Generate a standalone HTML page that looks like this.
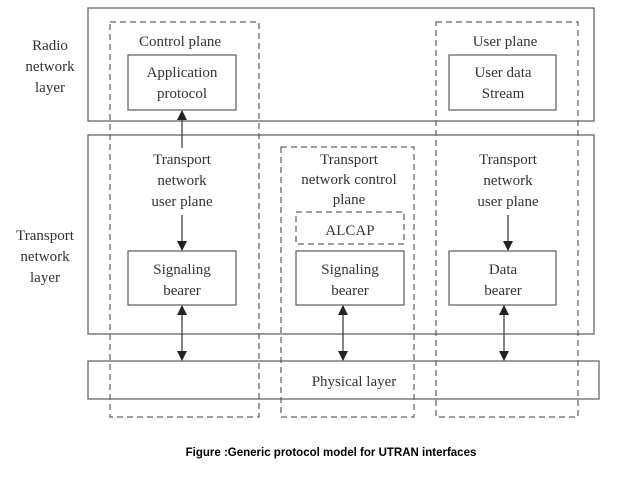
<!DOCTYPE html>
<html><head><meta charset="utf-8"><style>
body{margin:0;background:#fff;}
svg{display:block}
text{font-family:"Liberation Serif",serif;font-size:15px;fill:#333;text-anchor:middle}
</style></head><body>
<svg width="638" height="479" viewBox="0 0 638 479" xmlns="http://www.w3.org/2000/svg">
<defs>
<marker id="a" markerWidth="10" markerHeight="10" refX="9" refY="5" orient="auto" markerUnits="userSpaceOnUse">
<path d="M0,0 L10,5 L0,10 z" fill="#222"/></marker>
</defs>
<g fill="none" stroke="#666" stroke-width="1.3">
<rect x="88" y="8" width="506" height="113"/>
<rect x="88" y="135" width="506" height="199"/>
<rect x="88" y="361" width="511" height="38"/>
<rect x="128" y="55" width="108" height="55"/>
<rect x="449" y="55" width="107" height="55"/>
<rect x="128" y="251" width="108" height="54"/>
<rect x="296" y="251" width="108" height="54"/>
<rect x="449" y="251" width="107" height="54"/>
</g>
<g fill="none" stroke="#666" stroke-width="1.3" stroke-dasharray="6,4">
<rect x="110" y="22" width="149" height="395"/>
<rect x="281" y="147" width="133" height="270"/>
<rect x="436" y="22" width="142" height="395"/>
<rect x="296" y="212" width="108" height="32"/>
</g>
<g stroke="#333" stroke-width="1.2">
<line x1="182" y1="148" x2="182" y2="111" marker-end="url(#a)"/>
<line x1="182" y1="215" x2="182" y2="250" marker-end="url(#a)"/>
<line x1="508" y1="215" x2="508" y2="250" marker-end="url(#a)"/>
<line x1="182" y1="333" x2="182" y2="306" marker-end="url(#a)"/>
<line x1="182" y1="333" x2="182" y2="360" marker-end="url(#a)"/>
<line x1="343" y1="333" x2="343" y2="306" marker-end="url(#a)"/>
<line x1="343" y1="333" x2="343" y2="360" marker-end="url(#a)"/>
<line x1="504" y1="333" x2="504" y2="306" marker-end="url(#a)"/>
<line x1="504" y1="333" x2="504" y2="360" marker-end="url(#a)"/>
</g>
<text x="50" y="50">Radio</text><text x="50" y="71">network</text><text x="50" y="92">layer</text>
<text x="45" y="240">Transport</text><text x="45" y="261">network</text><text x="45" y="282">layer</text>
<text x="180" y="46">Control plane</text>
<text x="182" y="77">Application</text><text x="182" y="98">protocol</text>
<text x="505" y="46">User plane</text>
<text x="503" y="77">User data</text><text x="503" y="98">Stream</text>
<text x="182" y="164">Transport</text><text x="182" y="185">network</text><text x="182" y="206">user plane</text>
<text x="349" y="164">Transport</text><text x="349" y="184">network control</text><text x="349" y="204">plane</text>
<text x="350" y="235">ALCAP</text>
<text x="508" y="164">Transport</text><text x="508" y="185">network</text><text x="508" y="206">user plane</text>
<text x="182" y="274">Signaling</text><text x="182" y="295">bearer</text>
<text x="350" y="274">Signaling</text><text x="350" y="295">bearer</text>
<text x="503" y="274">Data</text><text x="503" y="295">bearer</text>
<text x="354" y="386">Physical layer</text>
<text x="331" y="456" style="font-family:'Liberation Sans',sans-serif;font-size:11.5px;font-weight:bold;fill:#000">Figure :Generic protocol model for UTRAN interfaces</text>
</svg>
</body></html>
